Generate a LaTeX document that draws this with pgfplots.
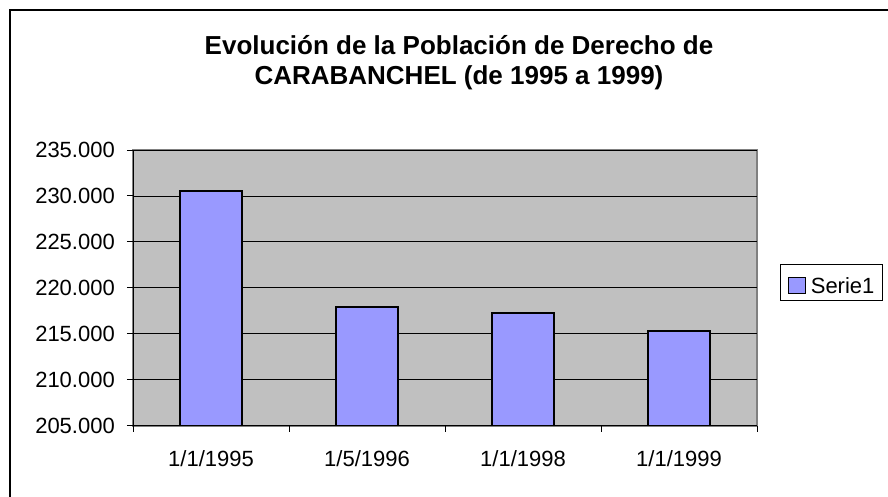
\documentclass[border=0pt]{standalone}
\usepackage{fontspec}
\setmainfont{Liberation Sans}
\usepackage{pgfplots}
\pgfplotsset{compat=1.18}
\definecolor{barblue}{HTML}{9999FF}
\definecolor{plotgray}{HTML}{C0C0C0}
\definecolor{bordergray}{HTML}{808080}
\pgfplotsset{mylegend/.style={legend image code/.code={\draw[##1, line width=1.8pt] (0pt,0pt) rectangle (17pt,16pt);}}}
\begin{document}
\begin{tikzpicture}[x=1pt,y=1pt]
\useasboundingbox (0pt,0pt) rectangle (888pt,496pt);
\draw[line width=1.5pt] (10pt,-5pt) -- (10pt,486pt) -- (893pt,486pt);
\node[font=\bfseries\fontsize{26}{30}\selectfont, anchor=base, inner sep=0pt] at (459pt,441.7pt) {Evolución de la Población de Derecho de};
\node[font=\bfseries\fontsize{26}{30}\selectfont, anchor=base, inner sep=0pt] at (459pt,411pt) {CARABANCHEL (de 1995 a 1999)};
\begin{axis}[
  at={(133pt,70.5pt)}, anchor=south west,
  scale only axis, width=624pt, height=275.5pt,
  xmin=-0.5, xmax=3.5, ymin=205000, ymax=235000,
  scaled y ticks=false,
  ytick={205000,210000,215000,220000,225000,230000,235000},
  yticklabels={205.000,210.000,215.000,220.000,225.000,230.000,235.000},
  xtick={-0.5,0.5,1.5,2.5,3.5}, xticklabels={,,,,},
  extra x ticks={0,1,2,3},
  extra x tick labels={1/1/1995,1/5/1996,1/1/1998,1/1/1999},
  extra x tick style={major tick length=0pt, grid=none,
     xticklabel style={anchor=center, yshift=-33.5pt}},
  ymajorgrids, grid style={black, line width=0.8pt},
  axis lines*=left, axis line style={black, line width=1pt},
  tick align=outside, major tick length=6pt, tick style={black, line width=1pt},
  axis background/.style={fill=plotgray, draw=bordergray, line width=2pt},
  ticklabel style={font=\fontsize{22}{26}\selectfont},
  yticklabel style={anchor=east, inner sep=0pt, xshift=-12pt},
  ybar, bar width=62.7pt,
  legend style={at={(1.0369,0.5851)}, anchor=north west, draw=black, line width=1pt,
     fill=white, font=\fontsize{22}{26}\selectfont, inner xsep=7pt, inner ysep=6pt,
     column sep=3pt,
     nodes={inner xsep=1.5pt, inner ysep=0pt, text depth=0pt, text height=22.7pt}},
  legend cell align=left,
  legend style={cells={anchor=base west}},
]
\addplot[fill=barblue, draw=black, line width=2pt, mylegend] coordinates {(0,230550) (1,217850) (2,217300) (3,215300)};
\legend{Serie1}
\end{axis}
\end{tikzpicture}
\end{document}
